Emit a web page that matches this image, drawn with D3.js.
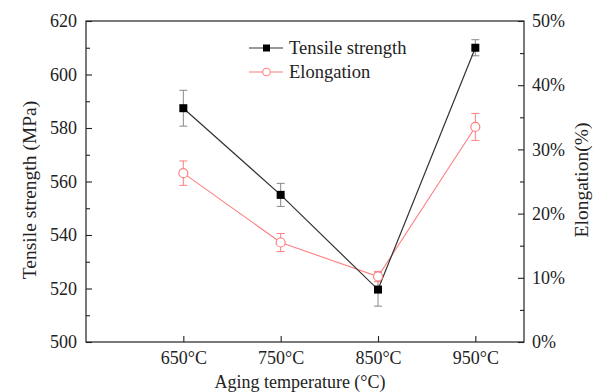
<!DOCTYPE html>
<html>
<head>
<meta charset="utf-8">
<script src="https://cdn.jsdelivr.net/npm/d3@7"></script>
<style>
  body { margin: 0; background: #fff; }
  svg { display: block; }
  text { font-family: "Liberation Serif", "Times New Roman", serif; fill: #222; }
</style>
</head>
<body>
<div id="chart"></div>
<script>
const temps = [650, 750, 850, 950];
const tempLabels = ['650°C', '750°C', '850°C', '950°C'];
const tensile = [587.4, 555, 519.6, 610];
const tensileErr = [6.7, 4.3, 6.2, 3];
const elongation = [26.3, 15.5, 10.2, 33.5];
const elongationErr = [1.9, 1.4, 0.8, 2.1];
const leftTicks = [500, 520, 540, 560, 580, 600, 620];
const rightTicks = [0, 10, 20, 30, 40, 50];

const W = 594, H = 392;
const margin = { top: 21, right: 70, bottom: 50, left: 86 };
const width = W - margin.left - margin.right;
const height = H - margin.top - margin.bottom;

const svg = d3.select('#chart').append('svg')
  .attr('width', W)
  .attr('height', H);

const chart = svg.append('g')
  .attr('transform', `translate(${margin.left}, ${margin.top})`);

const x = d3.scaleLinear().domain([550, 1000]).range([0, width]);
const yL = d3.scaleLinear().domain([500, 620]).range([height, 0]);
const yR = d3.scaleLinear().domain([0, 50]).range([height, 0]);

// frame
chart.append('rect')
  .attr('width', width).attr('height', height)
  .attr('fill', 'none').attr('stroke', '#222').attr('stroke-width', 1.2);

// left axis (inner ticks)
chart.append('g')
  .call(d3.axisLeft(yL).tickValues(leftTicks).tickSize(-6).tickPadding(9));
chart.append('g')
  .call(d3.axisLeft(yL).tickValues(d3.range(510, 620, 20)).tickSize(-4).tickFormat(''));

// right axis
chart.append('g')
  .attr('transform', `translate(${width},0)`)
  .call(d3.axisRight(yR).tickValues(rightTicks).tickSize(-6).tickPadding(8).tickFormat(d => d + '%'));
chart.append('g')
  .attr('transform', `translate(${width},0)`)
  .call(d3.axisRight(yR).tickValues(d3.range(5, 50, 10)).tickSize(-4).tickFormat(''));

// bottom axis
chart.append('g')
  .attr('transform', `translate(0,${height})`)
  .call(d3.axisBottom(x).tickValues(temps).tickSize(-6).tickPadding(9)
    .tickFormat((d, i) => tempLabels[i]));

chart.selectAll('.domain').remove();
chart.selectAll('.tick line').attr('stroke', '#222').attr('stroke-width', 1.1);
chart.selectAll('.tick text')
  .attr('font-family', '"Liberation Serif", serif')
  .attr('font-size', 18)
  .attr('fill', '#222');

// axis titles
svg.append('text')
  .attr('transform', 'translate(36, 190) rotate(-90)')
  .attr('text-anchor', 'middle')
  .attr('font-size', 19.5)
  .text('Tensile strength (MPa)');

svg.append('text')
  .attr('transform', 'translate(588, 180) rotate(-90)')
  .attr('text-anchor', 'middle')
  .attr('font-size', 19.5)
  .text('Elongation(%)');

svg.append('text')
  .attr('x', 300)
  .attr('y', 388)
  .attr('text-anchor', 'middle')
  .attr('font-size', 18)
  .text('Aging temperature (°C)');

const pink = '#ff7f7f';

const tData = temps.map((t, i) => ({ t, v: tensile[i], e: tensileErr[i] }));
const eData = temps.map((t, i) => ({ t, v: elongation[i], e: elongationErr[i] }));

function errorBars(data, y, color) {
  const g = chart.append('g').attr('stroke', color).attr('stroke-width', 1);
  data.forEach(d => {
    const cx = x(d.t);
    g.append('line').attr('x1', cx).attr('x2', cx).attr('y1', y(d.v - d.e)).attr('y2', y(d.v + d.e));
    g.append('line').attr('x1', cx - 4).attr('x2', cx + 4).attr('y1', y(d.v - d.e)).attr('y2', y(d.v - d.e));
    g.append('line').attr('x1', cx - 4).attr('x2', cx + 4).attr('y1', y(d.v + d.e)).attr('y2', y(d.v + d.e));
  });
}

errorBars(eData, yR, pink);
errorBars(tData, yL, '#888');

chart.append('path')
  .datum(eData)
  .attr('fill', 'none').attr('stroke', pink).attr('stroke-width', 1.1)
  .attr('d', d3.line().x(d => x(d.t)).y(d => yR(d.v)));

chart.append('path')
  .datum(tData)
  .attr('fill', 'none').attr('stroke', '#333').attr('stroke-width', 1.2)
  .attr('d', d3.line().x(d => x(d.t)).y(d => yL(d.v)));

chart.selectAll('.sq')
  .data(tData).enter().append('rect')
  .attr('x', d => x(d.t) - 4).attr('y', d => yL(d.v) - 4)
  .attr('width', 8).attr('height', 8)
  .attr('fill', '#000');

chart.selectAll('.circ')
  .data(eData).enter().append('circle')
  .attr('cx', d => x(d.t)).attr('cy', d => yR(d.v)).attr('r', 4.5)
  .attr('fill', '#fff').attr('stroke', pink).attr('stroke-width', 1.2);

// legend
const legend = svg.append('g');
legend.append('line').attr('x1', 249).attr('x2', 283).attr('y1', 48).attr('y2', 48)
  .attr('stroke', '#333').attr('stroke-width', 1.2);
legend.append('rect').attr('x', 263).attr('y', 44.5).attr('width', 7).attr('height', 7).attr('fill', '#000');
legend.append('text').attr('x', 289).attr('y', 54).attr('font-size', 18.5).text('Tensile strength');

legend.append('line').attr('x1', 249).attr('x2', 283).attr('y1', 72).attr('y2', 72)
  .attr('stroke', pink).attr('stroke-width', 1.1);
legend.append('circle').attr('cx', 266.5).attr('cy', 72).attr('r', 3.8)
  .attr('fill', '#fff').attr('stroke', pink).attr('stroke-width', 1.1);
legend.append('text').attr('x', 289).attr('y', 78).attr('font-size', 18.5).text('Elongation');
</script>
</body>
</html>
